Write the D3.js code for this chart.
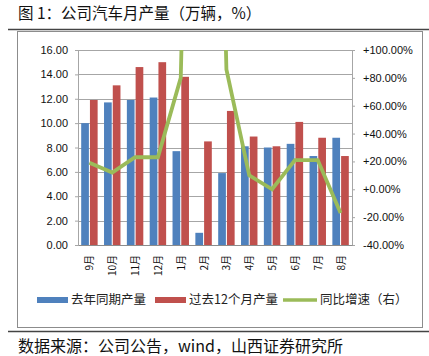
<!DOCTYPE html>
<html><head><meta charset="utf-8">
<script src="https://cdn.jsdelivr.net/npm/d3@7"></script>
<style>body{margin:0;background:#fff}svg{display:block}</style>
</head><body>
<svg id="c" width="429" height="356"></svg>
<script>
const categories = ["9月","10月","11月","12月","1月","2月","3月","4月","5月","6月","7月","8月"];
const lastYear = [10.0, 11.7, 11.9, 12.1, 7.7, 1.0, 5.9, 8.1, 8.0, 8.3, 7.3, 8.8];
const past12 = [11.9, 13.1, 14.6, 15.0, 13.8, 8.5, 11.0, 8.9, 8.1, 10.1, 8.8, 7.3];
const growth = [19, 12, 23, 23, 80, 750, 86, 10, 0, 21, 21, -17];
const leftTicks = [0, 2, 4, 6, 8, 10, 12, 14, 16];
const rightTicks = [-40, -20, 0, 20, 40, 60, 80, 100];
const seriesNames = ["去年同期产量", "过去12个月产量", "同比增速（右）"];
const colors = ["#4f81bd", "#c0504d", "#9bbb59"];

const svg = d3.select("#c");
const L = 78, R = 352, T = 50, B = 245;
const x = d3.scaleBand().domain(categories).range([L, R]).padding(0);
const x1 = d3.scaleBand().domain([0, 1]).range([x.bandwidth()*0.14, x.bandwidth()*0.86]).paddingInner(0.12);
const yL = d3.scaleLinear().domain([0, 16]).range([B, T]);
const yR = d3.scaleLinear().domain([-40, 100]).range([B, T]);

// title & frame
svg.append("text").attr("x", 18).attr("y", 18.5).attr("font-family", "Noto Sans CJK SC").attr("font-size", 15.5).attr("fill", "#111").text("图 1：公司汽车月产量（万辆，%）");
svg.append("line").attr("x1", 8).attr("x2", 429).attr("y1", 29.5).attr("y2", 29.5).attr("stroke", "#444").attr("stroke-width", 1.5);
svg.append("rect").attr("x", 17.5).attr("y", 31.5).attr("width", 405).attr("height", 296).attr("fill", "none").attr("stroke", "#8c8c8c");
svg.append("line").attr("x1", 8).attr("x2", 429).attr("y1", 331.5).attr("y2", 331.5).attr("stroke", "#444").attr("stroke-width", 1.5);
svg.append("text").attr("x", 18).attr("y", 352).attr("font-family", "Noto Sans CJK SC").attr("font-size", 16).attr("fill", "#111").text("数据来源：公司公告，wind，山西证券研究所");

// gridlines
svg.append("g").selectAll("line").data(leftTicks.slice(1)).join("line")
  .attr("x1", L).attr("x2", R).attr("y1", d => Math.round(yL(d)) + 0.5).attr("y2", d => Math.round(yL(d)) + 0.5)
  .attr("stroke", "#a6a6a6");

// left axis
const gl = svg.append("g").attr("transform", `translate(${L},0)`)
  .call(d3.axisLeft(yL).tickValues(leftTicks).tickFormat(d3.format(".2f")).tickSize(3).tickPadding(7));
gl.select(".domain").attr("stroke", "#a6a6a6");
gl.selectAll(".tick line").attr("stroke", "#a6a6a6");
gl.selectAll("text").attr("font-family", "Liberation Sans").attr("font-size", 11).attr("fill", "#111");

// right axis
const gr = svg.append("g").attr("transform", `translate(${R},0)`)
  .call(d3.axisRight(yR).tickValues(rightTicks).tickFormat(d => (d >= 0 ? "+" : "") + d.toFixed(2) + "%").tickSize(3).tickPadding(8));
gr.select(".domain").attr("stroke", "#a6a6a6");
gr.selectAll(".tick line").attr("stroke", "#a6a6a6");
gr.selectAll("text").attr("font-family", "Liberation Sans").attr("font-size", 11).attr("fill", "#111");

// bars
const g = svg.append("g");
categories.forEach((c, i) => {
  [lastYear[i], past12[i]].forEach((v, k) => {
    g.append("rect").attr("x", x(c) + x1(k)).attr("width", x1.bandwidth())
      .attr("y", yL(v)).attr("height", yL(0) - yL(v)).attr("fill", colors[k]);
  });
});

// bottom axis
const gb = svg.append("g").attr("transform", `translate(0,${B})`)
  .call(d3.axisBottom(x).tickSize(0).tickPadding(0));
gb.select(".domain").attr("stroke", "#8c8c8c");
gb.selectAll("text").attr("font-family", "Noto Sans CJK SC").attr("font-size", 10).attr("fill", "#111")
  .attr("text-anchor", "end").attr("transform", "translate(4,10) rotate(-90)").attr("dy", 0).attr("y", 0).attr("x", 0);

// line (clipped)
svg.append("clipPath").attr("id", "clip").append("rect").attr("x", L).attr("y", T).attr("width", R - L).attr("height", B - T);
svg.append("path").datum(growth).attr("clip-path", "url(#clip)")
  .attr("d", d3.line().x((d, i) => x(categories[i]) + x.bandwidth() / 2).y(d => yR(d)))
  .attr("fill", "none").attr("stroke", colors[2]).attr("stroke-width", 3.8).attr("stroke-linejoin", "miter");

// legend
const lg = svg.append("g").attr("font-family", "Noto Sans CJK SC").attr("font-size", 12.5).attr("fill", "#222");
const items = [{x: 37, t: 0}, {x: 155, t: 1}, {x: 283, t: 2}];
items.forEach(it => {
  if (it.t < 2) lg.append("rect").attr("x", it.x).attr("y", 297).attr("width", 31).attr("height", 6).attr("fill", colors[it.t]);
  else lg.append("line").attr("x1", it.x).attr("x2", it.x + 34).attr("y1", 300).attr("y2", 300).attr("stroke", colors[2]).attr("stroke-width", 3.5);
  lg.append("text").attr("x", it.x + (it.t < 2 ? 34 : 37)).attr("y", 300).attr("dy", "0.35em").text(seriesNames[it.t]);
});
</script>
</body></html>
